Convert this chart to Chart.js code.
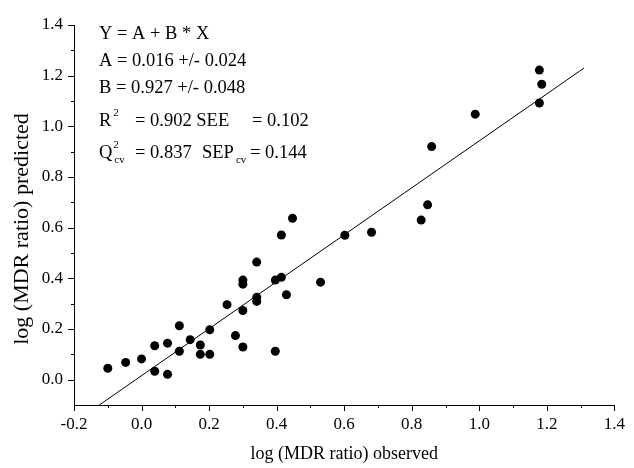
<!DOCTYPE html>
<html>
<head>
<meta charset="utf-8">
<script src="https://cdn.jsdelivr.net/npm/chart.js@4"></script>
<style>
  body { margin: 0; background: #fff; }
  canvas { display: block; }
</style>
</head>
<body>
<canvas id="chart" width="634" height="468"></canvas>
<script>
// observed vs predicted log(MDR ratio)
const obsX = [-0.10, -0.047, 0.0, 0.039, 0.039, 0.077, 0.077, 0.112, 0.112, 0.144,
  0.174, 0.174, 0.202, 0.202, 0.253, 0.278, 0.300, 0.300, 0.300, 0.300,
  0.341, 0.341, 0.341, 0.396, 0.396, 0.414, 0.414, 0.429, 0.447, 0.530,
  0.602, 0.681, 0.828, 0.847, 0.859, 0.988, 1.178, 1.185, 1.178]
const predY = [0.045, 0.068, 0.082, 0.033, 0.134, 0.021, 0.144, 0.213, 0.112, 0.158,
  0.137, 0.100, 0.197, 0.100, 0.296, 0.174, 0.273, 0.129, 0.393, 0.377,
  0.464, 0.325, 0.309, 0.393, 0.112, 0.404, 0.571, 0.335, 0.637, 0.385,
  0.570, 0.582, 0.630, 0.690, 0.920, 1.048, 1.222, 1.166, 1.092]

// regression line end points
const fitX = [-0.125, 1.31]
const fitY = [-0.10, 1.23]

const xTicks = [-0.2, 0.0, 0.2, 0.4, 0.6, 0.8, 1.0, 1.2, 1.4]
const yTicks = [0.0, 0.2, 0.4, 0.6, 0.8, 1.0, 1.2, 1.4]

const xTitle = 'log (MDR ratio) observed'
const yTitle = 'log (MDR ratio) predicted'

const FONT = '"Liberation Serif", "DejaVu Serif", serif'

// tick marks drawn by hand (major + minor, outside the axes)
const tickMarks = {
  id: 'tickMarks',
  afterDraw(chart) {
    const ctx = chart.ctx
    const xs = chart.scales.x
    const ys = chart.scales.y
    ctx.save()
    ctx.strokeStyle = '#000'
    ctx.lineWidth = 1
    ctx.beginPath()
    for (let i = -2; i <= 14; i++) {
      const px = Math.round(xs.getPixelForValue(i / 10)) + 0.5
      const len = i % 2 === 0 ? 6 : 3
      ctx.moveTo(px, ys.bottom)
      ctx.lineTo(px, ys.bottom + len)
    }
    for (let i = 0; i <= 14; i++) {
      const py = Math.round(ys.getPixelForValue(i / 10)) + 0.5
      const len = i % 2 === 0 ? 6 : 3
      ctx.moveTo(xs.left, py)
      ctx.lineTo(xs.left - len, py)
    }
    ctx.stroke()

    // y title, sits a bit below the middle of the axis in the original
    ctx.fillStyle = '#000'
    ctx.font = '22px ' + FONT
    ctx.textAlign = 'center'
    ctx.textBaseline = 'middle'
    ctx.translate(22, 229)
    ctx.rotate(-Math.PI / 2)
    ctx.fillText(yTitle, 0, 0)
    ctx.restore()
  }
}

// statistics block in the top left corner
const statsText = {
  id: 'statsText',
  afterDraw(chart) {
    const ctx = chart.ctx
    const x0 = 99
    ctx.save()
    ctx.fillStyle = '#000'
    ctx.textBaseline = 'alphabetic'
    const big = '18.5px ' + FONT
    const small = '11px ' + FONT
    ctx.font = big
    ctx.fillText('Y = A + B * X', x0, 39)
    ctx.fillText('A = 0.016 +/- 0.024', x0, 66)
    ctx.fillText('B = 0.927 +/- 0.048', x0, 93)

    ctx.fillText('R', x0, 126)
    const rw = ctx.measureText('R').width
    ctx.fillText('= 0.902 SEE', 135, 126)
    ctx.fillText('= 0.102', 252, 126)
    ctx.font = small
    ctx.fillText('2', x0 + rw + 2, 116)

    ctx.font = big
    ctx.fillText('Q', x0, 158)
    const qw = ctx.measureText('Q').width
    ctx.fillText('= 0.837', 135, 158)
    ctx.fillText('SEP', 202, 158)
    const sw = ctx.measureText('SEP').width
    ctx.fillText('= 0.144', 250, 158)
    ctx.font = small
    ctx.fillText('2', x0 + qw + 1, 148)
    ctx.fillText('cv', x0 + qw + 2, 163)
    ctx.fillText('cv', 202 + sw + 2, 163)
    ctx.restore()
  }
}

let ctx = document.getElementById('chart')

let chart = new Chart(ctx, {
  type: 'scatter',
  data: {
    datasets: [
      {
        label: 'compounds',
        data: obsX.map((x, i) => ({ x: x, y: predY[i] })),
        backgroundColor: '#000',
        borderWidth: 0,
        pointRadius: 4.5,
        pointHoverRadius: 4.5
      },
      {
        label: 'fit',
        data: fitX.map((x, i) => ({ x: x, y: fitY[i] })),
        showLine: true,
        borderColor: '#000',
        borderWidth: 1,
        pointRadius: 0,
        fill: false
      }
    ]
  },
  options: {
    responsive: false,
    animation: false,
    layout: { padding: { top: 25, right: 13, left: 0, bottom: 0 } },
    plugins: {
      legend: { display: false },
      tooltip: { enabled: false }
    },
    scales: {
      x: {
        type: 'linear',
        min: -0.2,
        max: 1.4,
        afterBuildTicks: s => { s.ticks = xTicks.map(v => ({ value: v })) },
        afterFit: s => { s.height = 63 },
        grid: { display: false, drawTicks: false },
        border: { display: true, color: '#000', width: 1 },
        ticks: {
          color: '#000',
          padding: 9,
          maxRotation: 0,
          font: { family: FONT, size: 17 },
          callback: v => v.toFixed(1)
        },
        title: {
          display: true,
          text: xTitle,
          color: '#000',
          padding: { top: 0, bottom: 3 },
          font: { family: FONT, size: 18 }
        }
      },
      y: {
        type: 'linear',
        min: -0.1,
        max: 1.4,
        afterBuildTicks: s => { s.ticks = yTicks.map(v => ({ value: v })) },
        afterFit: s => { s.width = 74 },
        grid: { display: false, drawTicks: false },
        border: { display: true, color: '#000', width: 1 },
        ticks: {
          color: '#000',
          padding: 11,
          font: { family: FONT, size: 17 },
          callback: v => v.toFixed(1)
        },
        title: { display: false }
      }
    }
  },
  plugins: [tickMarks, statsText]
})
</script>
</body>
</html>
